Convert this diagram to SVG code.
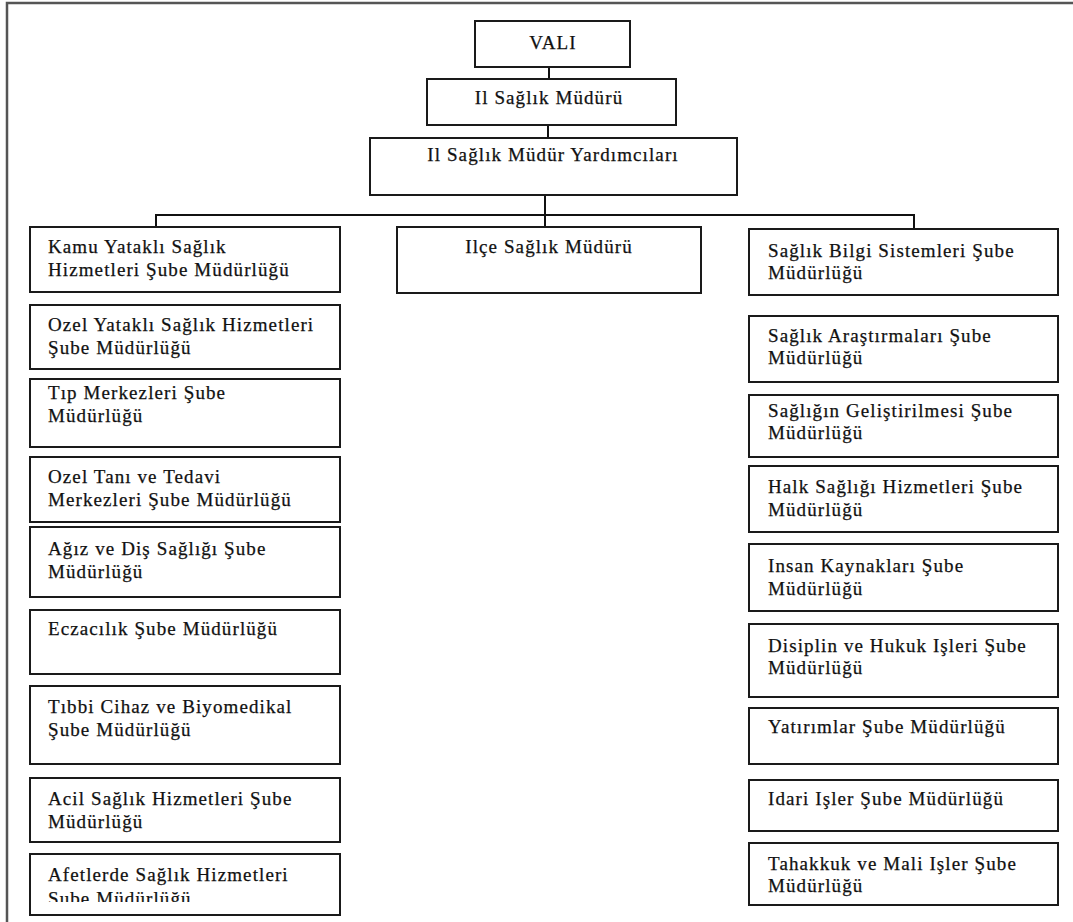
<svg xmlns="http://www.w3.org/2000/svg" width="1073" height="922" viewBox="0 0 1073 922">
<style>
.b{fill:#fff;stroke:#1a1a1a;stroke-width:2}
.t{font-family:"Liberation Serif","Times New Roman",serif;font-size:19px;letter-spacing:1.1px;fill:#111;stroke:#111;stroke-width:0.25}
.c{text-anchor:middle}
.k{stroke:#111;stroke-width:2;fill:none}
</style>
<defs>
<clipPath id="clipAf"><rect x="31" y="855" width="308" height="47"/></clipPath>
</defs>
<rect width="1073" height="922" fill="#fff"/>
<g id="frame"><path d="M7,922 V3 H1073" fill="none" stroke="#555" stroke-width="2.5"/></g>
<g id="connectors">
<path class="k" d="M549,67 V79"/>
<path class="k" d="M548,125 V138"/>
<path class="k" d="M545,195 V215"/>
<path class="k" d="M156,215 H915"/>
<path class="k" d="M156,214 V227"/>
<path class="k" d="M545,215 V227"/>
<path class="k" d="M914,214 V229"/>
</g>
<g id="vali"><rect class="b" x="475" y="21" width="155" height="46"/><text class="t c" x="553" y="49">VALI</text></g>
<g id="il-saglik-muduru"><rect class="b" x="427" y="79" width="249" height="46"/><text class="t c" x="549" y="104">Il Sağlık Müdürü</text></g>
<g id="il-saglik-mudur-yardimcilari"><rect class="b" x="370" y="138" width="367" height="57"/><text class="t c" x="553" y="161">Il Sağlık Müdür Yardımcıları</text></g>
<g id="ilce-saglik-muduru"><rect class="b" x="397" y="227" width="304" height="66"/><text class="t c" x="549" y="253">Ilçe Sağlık Müdürü</text></g>

<g id="l1"><rect class="b" x="30" y="227" width="310" height="65"/><text class="t" x="48" y="253">Kamu Yataklı Sağlık</text><text class="t" x="48" y="276">Hizmetleri Şube Müdürlüğü</text></g>
<g id="l2"><rect class="b" x="30" y="305" width="310" height="64"/><text class="t" x="48" y="331">Ozel Yataklı Sağlık Hizmetleri</text><text class="t" x="48" y="354">Şube Müdürlüğü</text></g>
<g id="l3"><rect class="b" x="30" y="379" width="310" height="68"/><text class="t" x="48" y="399">Tıp Merkezleri Şube</text><text class="t" x="48" y="422">Müdürlüğü</text></g>
<g id="l4"><rect class="b" x="30" y="457" width="310" height="65"/><text class="t" x="48" y="483">Ozel Tanı ve Tedavi</text><text class="t" x="48" y="506">Merkezleri Şube Müdürlüğü</text></g>
<g id="l5"><rect class="b" x="30" y="527" width="310" height="70"/><text class="t" x="48" y="555">Ağız ve Diş Sağlığı Şube</text><text class="t" x="48" y="578">Müdürlüğü</text></g>
<g id="l6"><rect class="b" x="30" y="610" width="310" height="64"/><text class="t" x="48" y="635">Eczacılık Şube Müdürlüğü</text></g>
<g id="l7"><rect class="b" x="30" y="686" width="310" height="78"/><text class="t" x="48" y="713">Tıbbi Cihaz ve Biyomedikal</text><text class="t" x="48" y="736">Şube Müdürlüğü</text></g>
<g id="l8"><rect class="b" x="30" y="778" width="310" height="64"/><text class="t" x="48" y="805">Acil Sağlık Hizmetleri Şube</text><text class="t" x="48" y="828">Müdürlüğü</text></g>
<g id="l9"><rect class="b" x="30" y="854" width="310" height="61"/><g clip-path="url(#clipAf)"><text class="t" x="48" y="881">Afetlerde Sağlık Hizmetleri</text><text class="t" x="48" y="905">Şube Müdürlüğü</text></g></g>

<g id="r1"><rect class="b" x="749" y="229" width="309" height="66"/><text class="t" x="768" y="257">Sağlık Bilgi Sistemleri Şube</text><text class="t" x="768" y="279">Müdürlüğü</text></g>
<g id="r2"><rect class="b" x="749" y="316" width="309" height="66"/><text class="t" x="768" y="342">Sağlık Araştırmaları Şube</text><text class="t" x="768" y="364">Müdürlüğü</text></g>
<g id="r3"><rect class="b" x="749" y="395" width="309" height="62"/><text class="t" x="768" y="417">Sağlığın Geliştirilmesi Şube</text><text class="t" x="768" y="439">Müdürlüğü</text></g>
<g id="r4"><rect class="b" x="749" y="466" width="309" height="66"/><text class="t" x="768" y="493">Halk Sağlığı Hizmetleri Şube</text><text class="t" x="768" y="516">Müdürlüğü</text></g>
<g id="r5"><rect class="b" x="749" y="544" width="309" height="67"/><text class="t" x="768" y="572">Insan Kaynakları Şube</text><text class="t" x="768" y="595">Müdürlüğü</text></g>
<g id="r6"><rect class="b" x="749" y="624" width="309" height="73"/><text class="t" x="768" y="652">Disiplin ve Hukuk Işleri Şube</text><text class="t" x="768" y="674">Müdürlüğü</text></g>
<g id="r7"><rect class="b" x="749" y="708" width="309" height="56"/><text class="t" x="768" y="733">Yatırımlar Şube Müdürlüğü</text></g>
<g id="r8"><rect class="b" x="749" y="780" width="309" height="51"/><text class="t" x="768" y="805">Idari Işler Şube Müdürlüğü</text></g>
<g id="r9"><rect class="b" x="749" y="843" width="309" height="62"/><text class="t" x="768" y="870">Tahakkuk ve Mali Işler Şube</text><text class="t" x="768" y="892">Müdürlüğü</text></g>
</svg>
